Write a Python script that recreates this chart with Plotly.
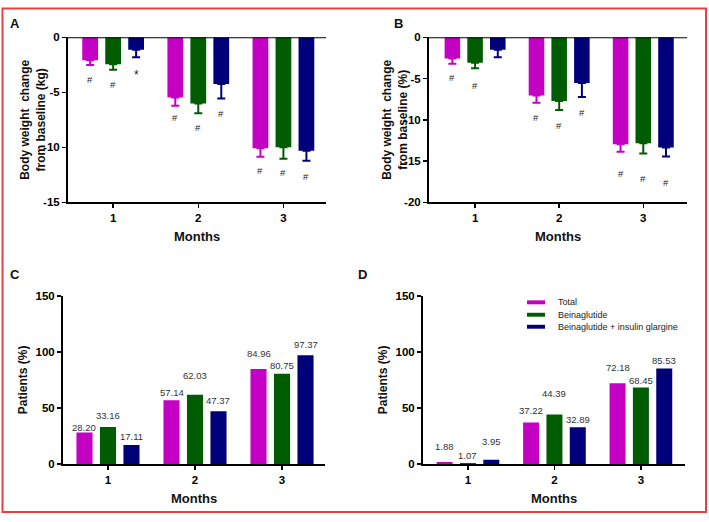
import plotly.graph_objects as go

W, H = 709, 522
FONT = "Liberation Sans, Arial, sans-serif"

months = [1, 2, 3]
series = ["Total", "Beinaglutide", "Beinaglutide + insulin glargine"]
colors = ["#c400c4", "#005c00", "#00007a"]

# Panel A: body weight change (kg)
a_total = [-2.08, -5.48, -10.08]
a_bein = [-2.46, -6.02, -9.99]
a_combo = [-1.13, -4.24, -10.32]
a_total_err = [0.45, 0.75, 0.77]
a_bein_err = [0.50, 0.89, 1.04]
a_combo_err = [0.68, 1.33, 0.89]
a_total_sig = ["#", "#", "#"]
a_bein_sig = ["#", "#", "#"]
a_combo_sig = ["*", "#", "#"]
a_total_sig_y = [-3.8, -7.3, -12.13]
a_bein_sig_y = [-4.33, -8.24, -12.33]
a_combo_sig_y = [-3.45, -6.9, -12.66]

# Panel B: body weight change (%)
b_total = [-2.57, -7.04, -12.96]
b_bein = [-3.08, -7.71, -12.85]
b_combo = [-1.50, -5.53, -13.36]
b_total_err = [0.63, 0.90, 0.91]
b_bein_err = [0.67, 1.10, 1.22]
b_combo_err = [0.91, 1.70, 1.07]
b_total_sig = ["#", "#", "#"]
b_bein_sig = ["#", "#", "#"]
b_combo_sig = ["", "#", "#"]
b_total_sig_y = [-4.86, -9.72, -16.52]
b_bein_sig_y = [-5.85, -10.71, -17.11]
b_combo_sig_y = [-2.0, -9.09, -17.59]

# Panel C: patients (%)
c_total = [28.20, 57.14, 84.96]
c_bein = [33.16, 62.03, 80.75]
c_combo = [17.11, 47.37, 97.37]
c_total_lbl_y = [32.8, 64.0, 98.8]
c_bein_lbl_y = [43.5, 79.1, 87.8]
c_combo_lbl_y = [24.6, 56.8, 107.2]

# Panel D: patients (%)
d_total = [1.88, 37.22, 72.18]
d_bein = [1.07, 44.39, 68.45]
d_combo = [3.95, 32.89, 85.53]
d_total_lbl_y = [15.4, 48.1, 86.4]
d_bein_lbl_y = [8.1, 63.2, 74.8]
d_combo_lbl_y = [20.3, 40.0, 92.8]

a_ticks = [0, -5, -10, -15]
a_tick_text = ["0", "-5", "-10", "-15"]
b_ticks = [0, -5, -10, -15, -20]
b_tick_text = ["0", "-5", "-10", "-15", "-20"]
cd_ticks = [0, 50, 100, 150]


def px(x):
    return x / W


def py(y):
    return 1 - y / H


SLOT = 0.27  # category-unit spacing of grouped bars

fig = go.Figure()
annotations = []
shapes = []

panels = [
    ("x", "y", [a_total, a_bein, a_combo], [a_total_err, a_bein_err, a_combo_err]),
    ("x2", "y2", [b_total, b_bein, b_combo], [b_total_err, b_bein_err, b_combo_err]),
    ("x3", "y3", [c_total, c_bein, c_combo], None),
    ("x4", "y4", [d_total, d_bein, d_combo], None),
]

for xa, ya, vals, errs in panels:
    for i, v in enumerate(vals):
        eb = None
        if errs is not None:
            eb = dict(type="data", symmetric=False, array=[0] * len(v),
                      arrayminus=errs[i], color=colors[i], thickness=2, width=4)
        fig.add_trace(go.Bar(x=months, y=v, marker=dict(color=colors[i], line=dict(width=0)),
                             error_y=eb, xaxis=xa, yaxis=ya, showlegend=False,
                             name=series[i]))

# significance markers
for xa, ya, sigs, sig_ys in [
    ("x", "y", [a_total_sig, a_bein_sig, a_combo_sig], [a_total_sig_y, a_bein_sig_y, a_combo_sig_y]),
    ("x2", "y2", [b_total_sig, b_bein_sig, b_combo_sig], [b_total_sig_y, b_bein_sig_y, b_combo_sig_y]),
]:
    for i in range(3):
        for j, m in enumerate(months):
            if sigs[i][j]:
                annotations.append(dict(x=m + (i - 1) * SLOT, y=sig_ys[i][j], xref=xa, yref=ya,
                                        text=sigs[i][j], showarrow=False,
                                        font=dict(family=FONT, size=12 if sigs[i][j] == "*" else 9.5,
                                                  color="#222")))

# value labels
for xa, ya, vals, lys in [
    ("x3", "y3", [c_total, c_bein, c_combo], [c_total_lbl_y, c_bein_lbl_y, c_combo_lbl_y]),
    ("x4", "y4", [d_total, d_bein, d_combo], [d_total_lbl_y, d_bein_lbl_y, d_combo_lbl_y]),
]:
    for i in range(3):
        for j, m in enumerate(months):
            annotations.append(dict(x=m + (i - 1) * SLOT, y=lys[i][j], xref=xa, yref=ya,
                                    text=f"{vals[i][j]:.2f}", showarrow=False,
                                    font=dict(family=FONT, size=9.5, color="#333")))

# zero lines on top of A and B
for xa, ya in [("x", "y"), ("x2", "y2")]:
    shapes.append(dict(type="line", xref=f"{xa} domain", x0=0, x1=1, yref=ya, y0=0, y1=0,
                       line=dict(color="black", width=2)))

axis_common = dict(showline=True, linecolor="black", linewidth=2, ticks="outside",
                   ticklen=4, tickwidth=1.5, tickcolor="black", showgrid=False, zeroline=False,
                   tickfont=dict(family=FONT, size=11.5, color="black", weight="bold"))

layout_axes = dict(
    xaxis=dict(domain=[px(68), px(326)], range=[0.47, 3.5], tickvals=months, anchor="y", **axis_common),
    yaxis=dict(domain=[py(201), py(32)], range=[-15, 0], tickvals=a_ticks, ticktext=a_tick_text,
               anchor="x", **axis_common),
    xaxis2=dict(domain=[px(429), px(687)], range=[0.452, 3.52], tickvals=months, anchor="y2", **axis_common),
    yaxis2=dict(domain=[py(201), py(32)], range=[-20, 0], tickvals=b_ticks, ticktext=b_tick_text,
                anchor="x2", **axis_common),
    xaxis3=dict(domain=[px(63), px(325)], range=[0.483, 3.494], tickvals=months, anchor="y3", **axis_common),
    yaxis3=dict(domain=[py(469), py(297)], range=[0, 150], tickvals=cd_ticks, anchor="x3", **axis_common),
    xaxis4=dict(domain=[px(423), px(685)], range=[0.48, 3.51], tickvals=months, anchor="y4", **axis_common),
    yaxis4=dict(domain=[py(469), py(297)], range=[0, 150], tickvals=cd_ticks, anchor="x4", **axis_common),
)

# text labels: panel letters, axis titles
def ann(x, y, text, size, angle=0, bold=True, xanchor="center"):
    annotations.append(dict(x=px(x), y=py(y), xref="paper", yref="paper", text=text,
                            showarrow=False, textangle=angle, xanchor=xanchor, yanchor="middle",
                            font=dict(family=FONT, size=size, color="#111",
                                      weight="bold" if bold else "normal")))

ann(15, 17.5, "A", 13)
ann(398, 17.5, "B", 13)
ann(15, 275, "C", 13)
ann(362, 275, "D", 13)

ann(197, 236, "Months", 13)
ann(558, 236, "Months", 13)
ann(194, 504, "Months", 13)
ann(554, 504, "Months", 13)

ann(33, 116.5, "Body weight  change<br>from baseline (kg)", 12, angle=-90)
ann(395, 116.5, "Body weight  change<br>from baseline (%)", 12, angle=-90)
ann(23, 383, "Patients (%)", 12, angle=-90)
ann(383, 383, "Patients (%)", 12, angle=-90)

# legend (panel D)
leg_rows = [303.3, 316, 328.3]
for i, name in enumerate(series):
    yc = leg_rows[i]
    shapes.append(dict(type="rect", xref="paper", yref="paper", x0=px(527), x1=px(545),
                       y0=py(yc + 2), y1=py(yc - 2), fillcolor=colors[i], line=dict(width=0)))
    annotations.append(dict(x=px(556), y=py(yc), xref="paper", yref="paper", text=name,
                            showarrow=False, xanchor="left", yanchor="middle",
                            font=dict(family=FONT, size=9, color="#222")))

# red frame
shapes.append(dict(type="rect", xref="paper", yref="paper", x0=px(2.5), x1=px(706),
                   y0=py(518), y1=py(2.5), line=dict(color="#e8403f", width=2)))

fig.update_layout(
    width=W, height=H, margin=dict(l=0, r=0, t=0, b=0),
    paper_bgcolor="white", plot_bgcolor="white",
    barmode="group", bargap=0.19, bargroupgap=0.315,
    showlegend=False, annotations=annotations, shapes=shapes,
    hovermode=False,
    **layout_axes,
)

fig.write_html(
    "out.html",
    config={"displayModeBar": False, "staticPlot": True},
    post_script="document.body.style.margin='0';document.body.style.overflow='hidden';",
)
